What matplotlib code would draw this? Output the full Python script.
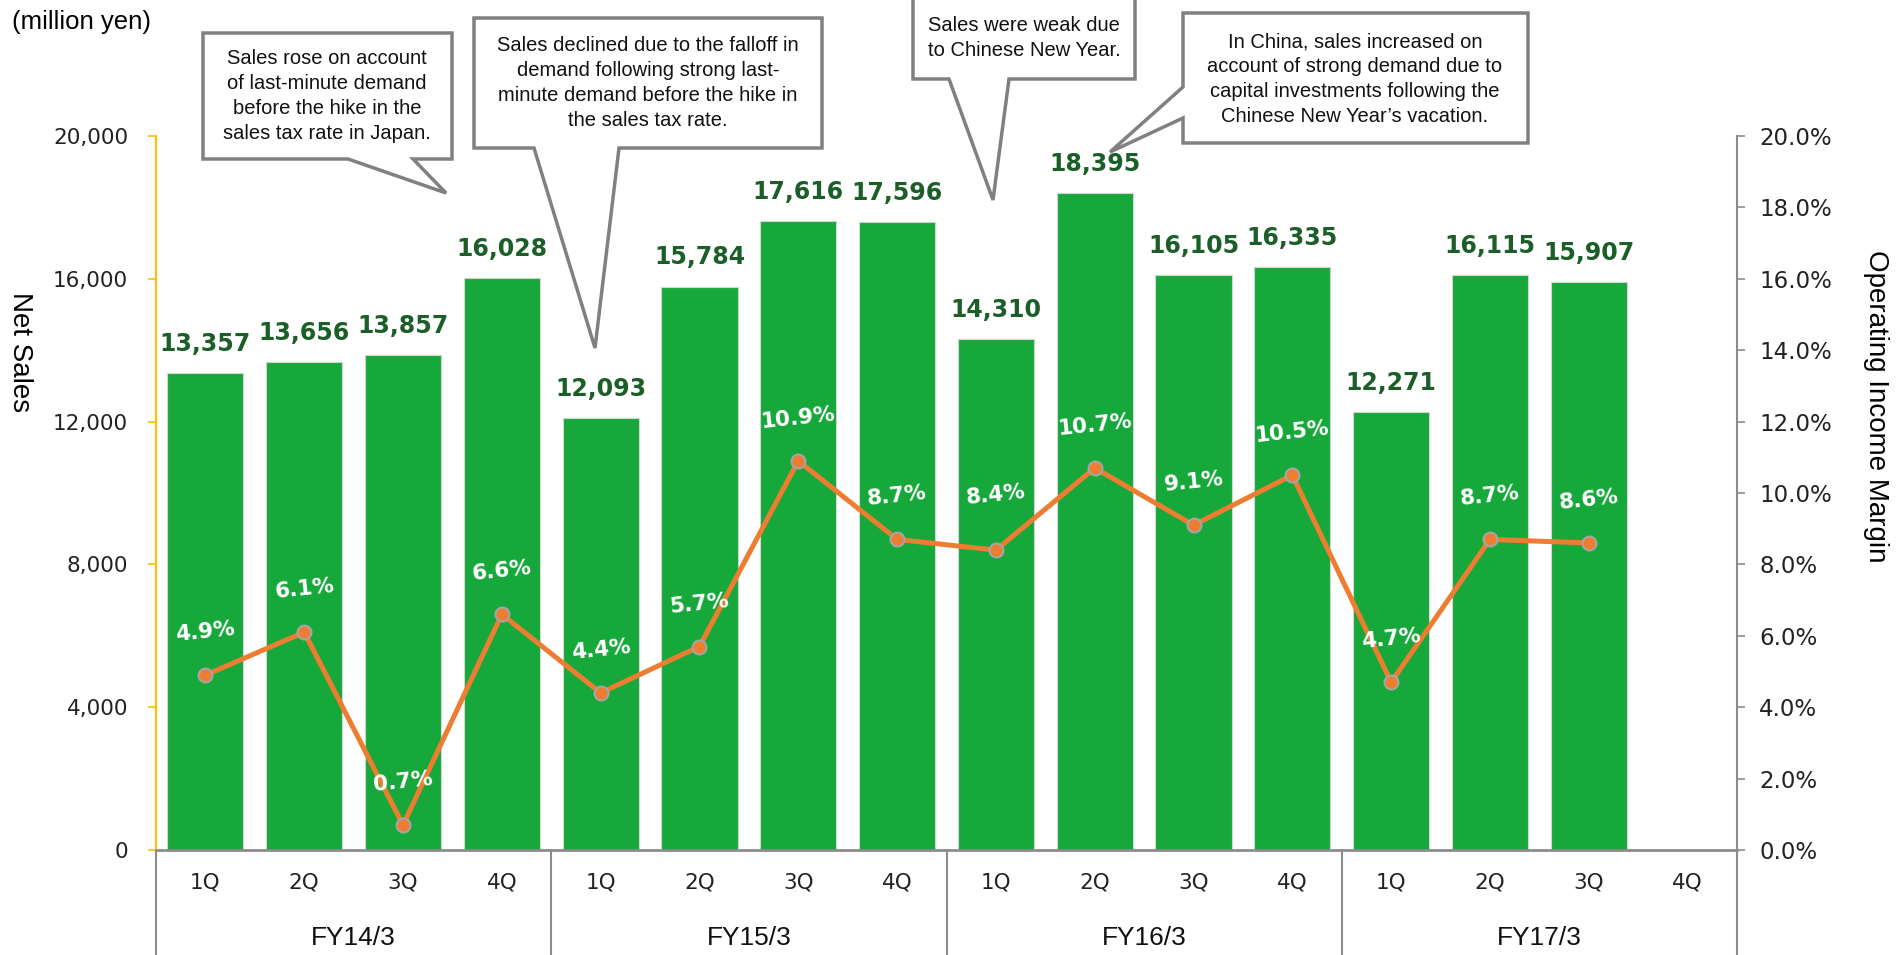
import matplotlib

matplotlib.use("Agg")
from matplotlib import pyplot as plt
from matplotlib.patches import Polygon
from matplotlib.transforms import blended_transform_factory

W, H = 1903, 955

fiscal_years = ["FY14/3", "FY15/3", "FY16/3", "FY17/3"]
quarters = ["1Q", "2Q", "3Q", "4Q"]
net_sales = [13357, 13656, 13857, 16028, 12093, 15784, 17616, 17596,
             14310, 18395, 16105, 16335, 12271, 16115, 15907]
op_margin = [4.9, 6.1, 0.7, 6.6, 4.4, 5.7, 10.9, 8.7,
             8.4, 10.7, 9.1, 10.5, 4.7, 8.7, 8.6]
sales_ticks = [0, 4000, 8000, 12000, 16000, 20000]
margin_ticks = [0, 2, 4, 6, 8, 10, 12, 14, 16, 18, 20]

note_texts = [
    "Sales rose on account\nof last-minute demand\nbefore the hike in the\nsales tax rate in Japan.",
    "Sales declined due to the falloff in\ndemand following strong last-\nminute demand before the hike in\nthe sales tax rate.",
    "Sales were weak due\nto Chinese New Year.",
    "In China, sales increased on\naccount of strong demand due to\ncapital investments following the\nChinese New Year\u2019s vacation.",
]

BAR_GREEN = "#17A83B"
LABEL_GREEN = "#1B5E28"
ORANGE = "#ED7D31"
GRAY = "#8C8C8C"
YELLOW = "#FFC000"
ARIAL = ["Liberation Sans", "DejaVu Sans"]
NARROW = ["Liberation Sans Narrow", "Liberation Sans", "DejaVu Sans"]

# callout outlines in figure pixels (x right, y down), text centre per box
callout_shapes = [
    [(203, 33), (452, 33), (452, 159), (413, 159), (446, 193), (348, 159), (203, 159)],
    [(474, 18), (822, 18), (822, 148), (619, 148), (595, 348), (534, 148), (474, 148)],
    [(913, -5), (1135, -5), (1135, 79), (1009, 79), (993, 200), (949, 79), (913, 79)],
    [(1183, 13), (1528, 13), (1528, 143), (1183, 143), (1183, 118), (1110, 152), (1183, 87)],
]
callout_centres = [(327, 96), (648, 83), (1024, 38), (1355, 79)]


def px(x, y):
    return x / W, 1 - y / H


fig = plt.figure(figsize=(W / 100, H / 100), dpi=100)
ax = fig.add_axes([156 / W, 1 - 850 / H, (1737 - 156) / W, (850 - 136) / H])
ax2 = ax.twinx()

n_slots = len(fiscal_years) * len(quarters)
xs = list(range(len(net_sales)))
ax.bar(xs, net_sales, width=0.77, color=BAR_GREEN, edgecolor="#cfd8cf", linewidth=0.8, zorder=2)
for x, v in zip(xs, net_sales):
    ax.annotate(f"{v:,}", (x, v), xytext=(0, 21), textcoords="offset points",
                ha="center", va="center", fontsize=17, fontweight="bold", color=LABEL_GREEN)

ax.set_xlim(-0.5, n_slots - 0.5)
ax.set_ylim(0, 20000)
ax.set_yticks(sales_ticks)
ax.set_yticklabels([f"{t:,}" for t in sales_ticks])
ax.tick_params(axis="y", colors="#222222", labelsize=15.5, length=6, width=1.2, pad=14)
ax.tick_params(axis="y", color=YELLOW)
ax.set_xticks([])
ax.spines["left"].set_color(YELLOW)
ax.spines["left"].set_linewidth(1.5)
ax.spines["bottom"].set_color(GRAY)
ax.spines["bottom"].set_linewidth(2)
ax.spines["top"].set_visible(False)
ax.spines["right"].set_visible(False)

ax2.set_ylim(0, 20)
ax2.set_yticks(margin_ticks)
ax2.set_yticklabels([f"{t:.1f}%" for t in margin_ticks])
ax2.tick_params(axis="y", colors="#222222", labelsize=16.5, length=6, width=1.2, pad=10)
ax2.tick_params(axis="y", color=GRAY)
for side in ("left", "top", "bottom"):
    ax2.spines[side].set_visible(False)
ax2.spines["right"].set_color(GRAY)
ax2.spines["right"].set_linewidth(1.5)
ax2.plot(xs, op_margin, color=ORANGE, linewidth=3.6, marker="o", markersize=10,
         markerfacecolor=ORANGE, markeredgecolor="#A5A5A5", markeredgewidth=1.5, zorder=3)
for x, m in zip(xs, op_margin):
    rise = 40 if m == 8.4 else 31
    ax2.annotate(f"{m:.1f}%", (x, m), xytext=(0, rise), textcoords="offset points",
                 ha="center", va="center", fontsize=15.5, fontweight="bold", color="white",
                 rotation=6, zorder=4)

# category table under the axis
trans = blended_transform_factory(ax.transData, ax.transAxes)
depth = 105 / (850 - 136)
for g in range(len(fiscal_years) + 1):
    xb = g * len(quarters) - 0.5
    ax.plot([xb, xb], [0, -depth], transform=trans, color=GRAY, linewidth=1.5, clip_on=False)
for g, fy in enumerate(fiscal_years):
    for q, qlabel in enumerate(quarters):
        ax.text(g * len(quarters) + q, -32 / (850 - 136), qlabel, transform=trans,
                ha="center", va="center", fontsize=15.5, color="#222222")
    ax.text(g * len(quarters) + 1.5, -88 / (850 - 136), fy, transform=trans,
            ha="center", va="center", fontsize=19, color="#111111", family=ARIAL)

fig.text(*px(12, 22), "(million yen)", ha="left", va="center", fontsize=18.5, family=ARIAL)
fig.text(*px(20, 352), "Net Sales", ha="center", va="center", rotation=270,
         fontsize=20, family=ARIAL)
fig.text(*px(1876, 406), "Operating Income Margin", ha="center", va="center",
         rotation=270, fontsize=20, family=ARIAL)

for shape, centre, note in zip(callout_shapes, callout_centres, note_texts):
    poly = Polygon([px(x, y) for x, y in shape], closed=True, transform=fig.transFigure,
                   facecolor="white", edgecolor="#808080", linewidth=2.5, zorder=10)
    fig.add_artist(poly)
    fig.text(*px(*centre), note, ha="center", va="center", fontsize=14.5,
             linespacing=1.38, family=NARROW, color="#111111", zorder=11)

fig.savefig("out.png", dpi=100)
